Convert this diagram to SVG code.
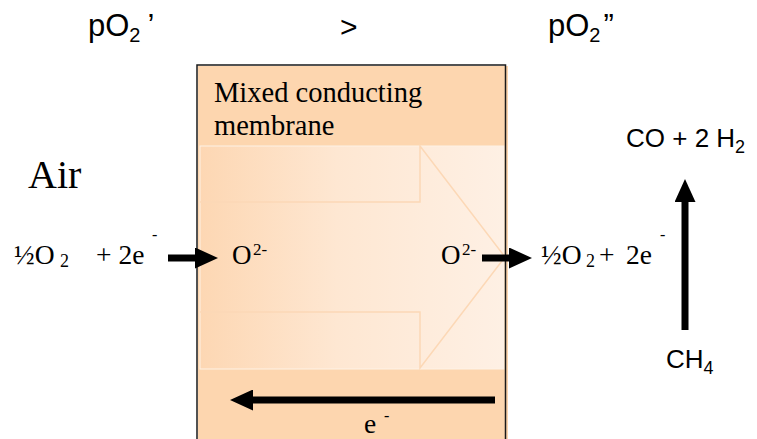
<svg xmlns="http://www.w3.org/2000/svg" width="757" height="439" viewBox="0 0 757 439">
<style>
.sans{font-family:"Liberation Sans",Arial,sans-serif;fill:#000}
.serif{font-family:"Liberation Serif","Times New Roman",serif;fill:#000}
.arr{stroke:#000;stroke-width:7;fill:none;marker-end:url(#head)}
</style>
<defs>
<linearGradient id="g" x1="0" y1="0" x2="1" y2="0">
<stop offset="0" stop-color="#FDD7B3"/>
<stop offset="0.45" stop-color="#FEE7D2"/>
<stop offset="1" stop-color="#FEF0E4"/>
</linearGradient>
<marker id="head" viewBox="0 0 23 21" markerWidth="23" markerHeight="21" refX="1" refY="10.5" orient="auto" markerUnits="userSpaceOnUse">
<path d="M0,0 L23,10.5 L0,21 Z" fill="#000"/>
</marker>
</defs>
<rect width="757" height="439" fill="#fff"/>
<g id="membrane">
<rect x="198" y="66" width="310" height="380" fill="#FDD6AF"/>
<rect x="200" y="146" width="304" height="223" fill="url(#g)" stroke="#FEF2E6" stroke-width="1"/>
<path d="M200,202 H420 V146 L505,257 L420,368 V312 H200" fill="none" stroke="#FCD8B6" stroke-width="1.5"/>
<path d="M197,439 V65 H505.5 V439" fill="none" stroke="#1a1a1a" stroke-width="1.5"/>
<text class="serif" x="214" y="102" font-size="28.5">Mixed conducting</text>
<text class="serif" x="214" y="135" font-size="28.5">membrane</text>
</g>
<g id="header">
<text class="sans" x="88" y="36" font-size="31">pO<tspan font-size="20" dy="6">2</tspan><tspan dy="-6" dx="7">’</tspan></text>
<text class="sans" x="340" y="37" font-size="30">&gt;</text>
<text class="sans" x="548" y="36" font-size="31">pO<tspan font-size="20" dy="6">2</tspan><tspan dy="-6" dx="3">”</tspan></text>
</g>
<g id="air">
<text class="serif" x="28" y="188" font-size="40">Air</text>
</g>
<g id="left-reaction">
<text class="serif" x="14" y="264" font-size="27.5">½O</text>
<text class="serif" x="60" y="267" font-size="18">2</text>
<text class="serif" x="96" y="264" font-size="27.5">+ 2e</text>
<text class="serif" x="152" y="240" font-size="16">-</text>
</g>
<g id="ion-left">
<text class="serif" x="232" y="264" font-size="27">O</text>
<text class="serif" x="253" y="255" font-size="17">2-</text>
</g>
<g id="ion-right">
<text class="serif" x="441" y="264" font-size="27">O</text>
<text class="serif" x="462" y="255" font-size="17">2-</text>
</g>
<g id="right-reaction">
<text class="serif" x="541" y="264" font-size="27.5">½O</text>
<text class="serif" x="586" y="267" font-size="18">2</text>
<text class="serif" x="599" y="264" font-size="27.5">+</text>
<text class="serif" x="626" y="264" font-size="27.5">2e</text>
<text class="serif" x="660" y="240" font-size="16">-</text>
</g>
<g id="products">
<text class="sans" x="626" y="147" font-size="26">CO + 2 H<tspan font-size="18" dy="6">2</tspan></text>
</g>
<g id="methane">
<text class="sans" x="666" y="368" font-size="26">CH<tspan font-size="18" dy="6">4</tspan></text>
</g>
<g id="electron">
<text class="serif" x="364" y="433" font-size="27.5">e</text>
<text class="serif" x="384" y="421" font-size="16">-</text>
</g>
<g id="connectors">
<line class="arr" x1="168" y1="258" x2="196" y2="258"/>
<line class="arr" x1="482" y1="258" x2="510" y2="258"/>
<line class="arr" x1="685" y1="330" x2="685" y2="201"/>
<line class="arr" x1="495" y1="400" x2="252" y2="400"/>
</g>
</svg>
